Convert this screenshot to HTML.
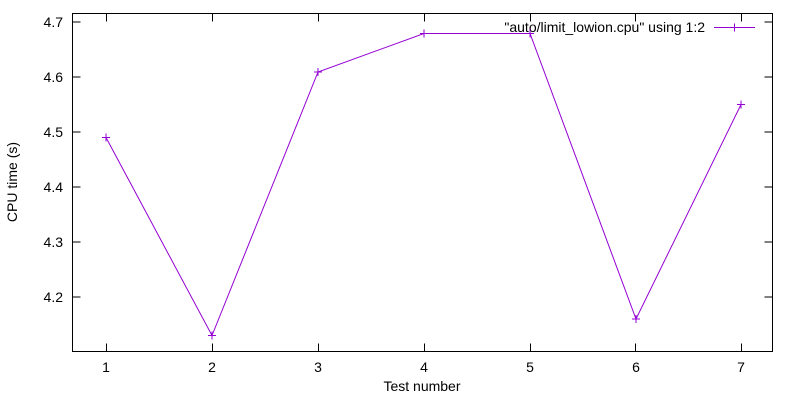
<!DOCTYPE html>
<html><head><meta charset="utf-8"><style>
html,body{margin:0;padding:0;background:#fff;}
svg{display:block;}
text{font-family:"Liberation Sans",sans-serif;font-size:14px;fill:#000;}
</style></head><body>
<svg width="800" height="400" xmlns="http://www.w3.org/2000/svg">
<rect x="0" y="0" width="800" height="400" fill="#fff"/>
<g stroke="#000" stroke-width="1" fill="none">
<rect x="72.5" y="13.5" width="700" height="338"/>
<!-- y ticks -->
<path d="M72.5 297h8M772.5 297h-8M72.5 242h8M772.5 242h-8M72.5 187h8M772.5 187h-8M72.5 132h8M772.5 132h-8M72.5 77h8M772.5 77h-8M72.5 22h8M772.5 22h-8"/>
<!-- x ticks -->
<path d="M106.5 351.5v-8M106.5 13.5v8M212.5 351.5v-8M212.5 13.5v8M318.5 351.5v-8M318.5 13.5v8M424.5 351.5v-8M424.5 13.5v8M530.5 351.5v-8M530.5 13.5v8M635.5 351.5v-8M635.5 13.5v8M741.5 351.5v-8M741.5 13.5v8"/>
</g>
<g text-anchor="end">
<text x="63" y="302">4.2</text><text x="63" y="247">4.3</text><text x="63" y="192">4.4</text>
<text x="63" y="137">4.5</text><text x="63" y="82">4.6</text><text x="63" y="27">4.7</text>
</g>
<g text-anchor="middle">
<text x="106" y="372">1</text><text x="212" y="372">2</text><text x="318" y="372">3</text>
<text x="424" y="372">4</text><text x="530" y="372">5</text><text x="636" y="372">6</text><text x="741" y="372">7</text>
<text x="422" y="391">Test number</text>
<text transform="translate(17,182) rotate(-90)">CPU time (s)</text>
</g>
<text x="705" y="32" text-anchor="end">"auto/limit_lowion.cpu" using 1:2</text>
<g stroke="#9400d3" stroke-width="1" fill="none">
<path d="M714 27.5h41"/>
<polyline points="106,137.5 212,335.5 318,72 424,33.5 530,33.5 636,319 741,104.5"/>
<path d="M730.5 27.5h8M734.5 23.5v8"/>
<path d="M102 137.5h8M106 133.5v8 M208 335.5h8M212 331.5v8 M314 72h8M318 68v8 M420 33.5h8M424 29.5v8 M526 33.5h8M530 29.5v8 M632 319h8M636 315v8 M737 104.5h8M741 100.5v8"/>
</g>
</svg>
</body></html>
